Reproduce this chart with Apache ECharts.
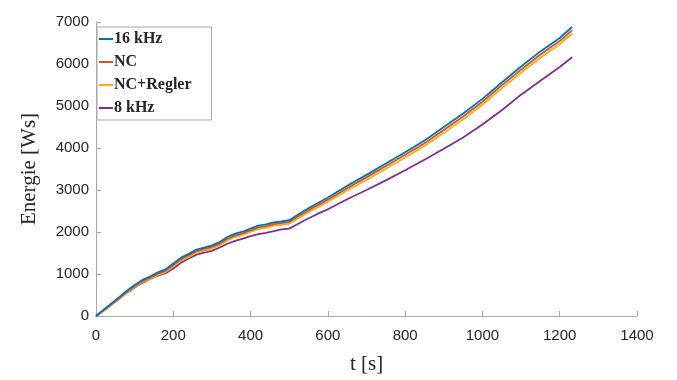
<!DOCTYPE html>
<html>
<head>
<meta charset="utf-8">
<script src="https://cdn.jsdelivr.net/npm/echarts@6/dist/echarts.min.js"></script>
<style>html,body{margin:0;padding:0;background:#fff}#c{width:677px;height:380px}</style>
</head>
<body>
<div id="c"></div>
<script>
var seriesNames = ['16 kHz', 'NC', 'NC+Regler', '8 kHz'];
var t = [0, 20, 40, 60, 80, 100, 120, 140, 160, 180, 200, 220, 240, 260, 280, 300, 320, 340, 360, 380, 400, 420, 440, 460, 480, 500, 520, 540, 560, 580, 600, 650, 700, 750, 800, 850, 900, 950, 1000, 1050, 1100, 1150, 1200, 1232];
var e16k = [0, 150, 300, 450, 600, 740, 860, 940, 1040, 1110, 1250, 1390, 1480, 1580, 1630, 1680, 1760, 1880, 1960, 2010, 2080, 2150, 2180, 2230, 2250, 2280, 2400, 2510, 2620, 2720, 2820, 3100, 3360, 3630, 3900, 4180, 4500, 4820, 5170, 5560, 5940, 6300, 6620, 6880];
var eNC = [0, 140, 285, 430, 580, 715, 835, 915, 1010, 1080, 1215, 1355, 1445, 1545, 1595, 1645, 1725, 1840, 1920, 1970, 2040, 2110, 2140, 2190, 2210, 2240, 2355, 2465, 2570, 2670, 2770, 3045, 3300, 3570, 3840, 4115, 4430, 4750, 5100, 5490, 5865, 6225, 6545, 6800];
var eReg = [0, 130, 270, 410, 555, 690, 810, 885, 980, 1045, 1180, 1315, 1405, 1505, 1555, 1605, 1685, 1800, 1880, 1930, 2000, 2070, 2100, 2150, 2170, 2200, 2310, 2420, 2520, 2620, 2720, 2990, 3240, 3505, 3775, 4050, 4360, 4680, 5030, 5420, 5790, 6150, 6470, 6720];
var e8k = [0, 130, 270, 410, 550, 680, 790, 880, 960, 1020, 1130, 1270, 1370, 1460, 1510, 1550, 1630, 1720, 1790, 1840, 1900, 1950, 1980, 2020, 2060, 2080, 2180, 2280, 2370, 2460, 2540, 2780, 3000, 3230, 3470, 3720, 3980, 4250, 4560, 4900, 5270, 5600, 5930, 6160];
var colors = ['#0072BD', '#D95319', '#EDB120', '#7E2F8E'];
var values = [e16k, eNC, eReg, e8k];

function pairs(v) { return t.map(function (x, i) { return [x, v[i]]; }); }
function plain(v) { return String(v); }

var chart = echarts.init(document.getElementById('c'), null, {renderer: 'canvas'});
var axisCommon = {
  axisLine: {show: true, lineStyle: {color: '#a8a8a8', width: 1}},
  axisTick: {show: true, inside: true, length: 5, lineStyle: {color: '#a8a8a8'}},
  splitLine: {show: false},
  axisLabel: {color: '#262626', fontFamily: 'Liberation Sans', fontSize: 15, formatter: plain}
};
chart.setOption({
  animation: false,
  backgroundColor: '#fff',
  grid: {left: 96, right: 40, top: 22, bottom: 58, containLabel: false},
  xAxis: Object.assign({}, axisCommon, {
    type: 'value', min: 0, max: 1400, interval: 200,
    name: 't [s]', nameLocation: 'middle', nameGap: 38,
    nameTextStyle: {fontFamily: 'Liberation Serif', fontSize: 21, color: '#262626'},
    axisLabel: Object.assign({}, axisCommon.axisLabel, {margin: 12})
  }),
  yAxis: Object.assign({}, axisCommon, {
    type: 'value', min: 0, max: 7000, interval: 1000,
    name: 'Energie [Ws]', nameLocation: 'middle', nameGap: 56, nameRotate: 90,
    nameTextStyle: {fontFamily: 'Liberation Serif', fontSize: 21, color: '#262626'},
    axisLabel: Object.assign({}, axisCommon.axisLabel, {margin: 7})
  }),
  legend: {
    orient: 'vertical', left: 97, top: 27,
    backgroundColor: '#fff', borderColor: '#a8a8a8', borderWidth: 1, borderRadius: 0,
    padding: [4, 20, 4, 2], itemGap: 7,
    itemWidth: 14, itemHeight: 2, icon: 'rect',
    textStyle: {fontFamily: 'Liberation Serif', fontSize: 16, color: '#262626', fontWeight: 'bold', padding: [0, 0, 0, -4]},
    data: seriesNames
  },
  series: seriesNames.map(function (n, i) {
    return {
      name: n, type: 'line', data: pairs(values[i]),
      showSymbol: false, symbol: 'none',
      lineStyle: {color: colors[i], width: 1.8},
      itemStyle: {color: colors[i]},
      z: 10 - i
    };
  })
});
</script>
</body>
</html>
